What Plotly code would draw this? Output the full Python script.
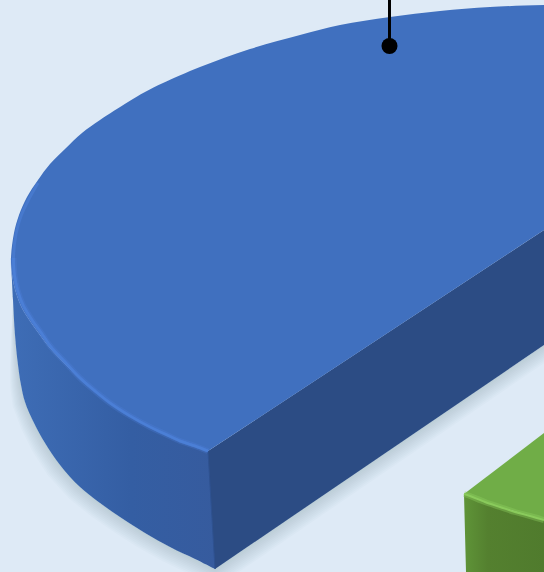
import math
import plotly.graph_objects as go

WIDTH, HEIGHT = 544, 572
BACKGROUND = "#DEEAF6"

# Outline of the blue wedge, top face
rim_back_x = [544, 490, 440, 390, 340, 300, 250, 200, 163, 145, 128, 100, 82, 65, 50, 38, 27, 19, 14, 11]
rim_back_y = [5, 7, 11, 17, 25, 35, 49, 67, 83, 92, 102, 120, 133, 149, 164, 180, 197, 215, 233, 258]
rim_front_x = [11, 12, 15, 21, 30, 40, 50, 65, 80, 95, 110, 130, 150, 165, 180, 195, 208]
rim_front_y = [258, 274, 289, 306, 321, 335, 348, 364, 379, 391, 403, 416, 427, 434, 441, 446, 451]
cut_x = [208, 544]
cut_y = [451, 230]

# Lower edge of the curved wall
base_x = [11, 13, 15, 18, 21, 25, 34, 45, 60, 80, 100, 120, 145, 170, 195, 214.6, 215]
base_y = [258, 300, 335, 365, 385, 402, 423, 443, 465, 487, 503, 517, 533, 547, 559, 568.8, 569]
cut_base_x = [215, 544]
cut_base_y = [569, 345]

# How far the drop shadow reaches past each point of the lower edge
shadow_reach = [0, 0, 4, 8, 11, 13, 14, 15, 16, 16, 16, 16, 16, 16, 16, 16, 16, 15]

# Highlight that runs just inside the rim
glow_x = [38, 29, 21, 16, 13.5, 14.5, 17.5, 23, 32, 42, 51, 66, 80, 95, 110, 130, 150, 165, 180, 195, 208]
glow_y = [183, 199, 216, 234, 258, 275, 290, 305, 320, 334, 347, 363, 378, 391, 403, 416, 427, 434, 441, 446, 451]

# Green wedge, partly visible in the lower right corner
green_top_x = [464, 544, 544, 530, 515, 500, 485, 470, 464]
green_top_y = [494, 433, 520, 516, 512, 507, 502, 496, 494]
green_wall_x = [464, 470, 485, 500, 515, 530, 544, 544, 466]
green_wall_y = [494, 496, 502, 507, 512, 516, 520, 572, 572]

# Leader line and its end dot
leader_x = [389.5, 389.5]
leader_y = [0, 46]

fig = go.Figure()


def stroke(xs, ys, color, width, shape="spline"):
    fig.add_trace(go.Scatter(x=xs, y=ys, mode="lines", line=dict(color=color, width=width, shape=shape),
                             hoverinfo="skip", showlegend=False))


def area(xs, ys, color=None, gradient=None, shape="linear"):
    fig.add_trace(go.Scatter(x=xs, y=ys, mode="lines", fill="toself", line=dict(width=0, shape=shape),
                             fillcolor=color, fillgradient=gradient,
                             hoverinfo="skip", showlegend=False))


def offset_edge(xs, ys, reach, fraction):
    """Push a polyline outward along its normals by a fraction of the reach."""
    out_x, out_y = [], []
    for i in range(len(xs)):
        a, b = max(i - 1, 0), min(i + 1, len(xs) - 1)
        tx, ty = xs[b] - xs[a], ys[b] - ys[a]
        norm = math.hypot(tx, ty)
        out_x.append(xs[i] - ty / norm * reach[i] * fraction)
        out_y.append(ys[i] + tx / norm * reach[i] * fraction)
    return out_x, out_y


# Soft drop shadow: stacked translucent bands that grow away from the wedge
edge_x = base_x + cut_base_x[1:]
edge_y = base_y + cut_base_y[1:]
for step in range(1, 11):
    far_x, far_y = offset_edge(edge_x, edge_y, shadow_reach, step / 10)
    area(far_x + edge_x[::-1], far_y + edge_y[::-1], color="rgba(105,115,120,0.025)")

# Curved wall with a horizontal gradient; its right end tucks behind the flat cut wall
area(rim_front_x + [250, 226, 215.5] + base_x[::-1], rim_front_y + [480, 550, 568.3] + base_y[::-1],
     gradient=dict(type="horizontal",
                   colorscale=[[0, "#3E6DB6"], [0.5, "#345EA3"], [1, "#375A9C"]]), shape="spline")

# Flat cut wall
area(cut_x + cut_base_x[::-1], cut_y + cut_base_y[::-1], color="#2C4C84")
stroke([208, 215], [451, 569], "#2F5290", 1, "linear")

# Top face, with a tight cluster of points keeping the front corner sharp
area(rim_back_x + rim_front_x[1:] + [208.5] + cut_x[1:],
     rim_back_y + rim_front_y[1:] + [450.7] + cut_y[1:], color="#4070BF", shape="spline")

# Bevel highlight along the rim
stroke(glow_x[4:], glow_y[4:], "rgba(78,130,220,0.28)", 6)
stroke(glow_x, glow_y, "rgba(78,130,220,0.5)", 3)
stroke(glow_x[4:], glow_y[4:], "#4B7FD6", 2.5)

# Green wedge
area(green_top_x, green_top_y, color="#70AD47")
area(green_wall_x, green_wall_y,
     gradient=dict(type="horizontal", colorscale=[[0, "#5F9438"], [0.3, "#54802F"], [1, "#507B2D"]]))
stroke(green_wall_x[:7], green_wall_y[:7], "rgba(140,205,95,0.4)", 6)
stroke(green_wall_x[:7], green_wall_y[:7], "#8ACB5C", 2)

# Leader line with a round end
fig.add_trace(go.Scatter(x=leader_x, y=leader_y, mode="lines", line=dict(color="#000000", width=3),
                         hoverinfo="skip", showlegend=False))
fig.add_trace(go.Scatter(x=leader_x[1:], y=leader_y[1:], mode="markers",
                         marker=dict(color="#000000", size=16), hoverinfo="skip", showlegend=False))

fig.update_layout(
    width=WIDTH, height=HEIGHT, margin=dict(l=0, r=0, t=0, b=0),
    paper_bgcolor=BACKGROUND, plot_bgcolor=BACKGROUND, showlegend=False,
    xaxis=dict(range=[0, WIDTH], visible=False, fixedrange=True),
    yaxis=dict(range=[HEIGHT, 0], visible=False, fixedrange=True),
)
fig.write_html("out.html", config={"displayModeBar": False})
